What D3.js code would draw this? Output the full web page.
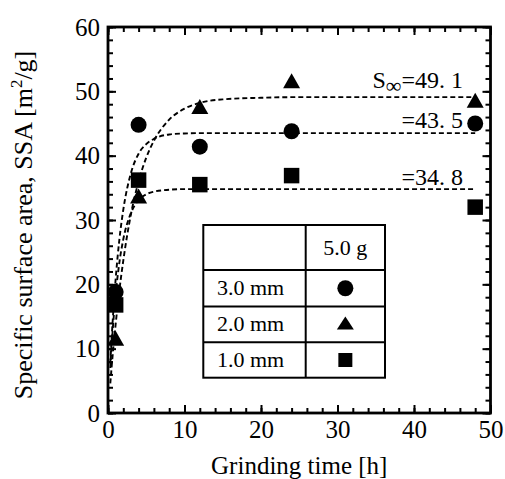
<!DOCTYPE html>
<html>
<head>
<meta charset="utf-8">
<script src="https://cdn.jsdelivr.net/npm/d3@7"></script>
<style>
  html, body { margin: 0; padding: 0; background: #fff; }
  svg { display: block; }
  svg text { font-family: "Liberation Serif", Tinos, "Times New Roman", Times, "DejaVu Serif", serif; fill: #000; }
</style>
</head>
<body>
<svg id="chart" width="505" height="479"></svg>
<script>
// Grinding time [h] at which each sample was measured
const grindTimes = [1, 4, 12, 24, 48];

// Specific surface area [m2/g] per ball size (5.0 g charge)
const ssa30mm = [18.8, 44.8, 41.4, 43.8, 45.0];
const ssa20mm = [11.4, 33.5, 47.4, 51.4, 48.4];
const ssa10mm = [16.8, 36.2, 35.5, 36.9, 32.0];

// Fitted saturation curves, sampled as [time, SSA]
const fit30mm = [[0.3, 7.7], [0.5, 12.1], [1, 20.8], [1.5, 27.1], [2, 31.6], [3, 37.3], [4, 40.3],
                 [5, 41.8], [6, 42.6], [8, 43.3], [10, 43.45], [12, 43.5], [48, 43.5]];
const fit20mm = [[0.3, 4.6], [0.5, 7.5], [1, 13.8], [1.5, 19.2], [2, 23.7], [3, 30.9], [4, 36.0],
                 [5, 39.7], [6, 42.3], [8, 45.6], [10, 47.3], [12, 48.2], [15, 48.75], [20, 49.0],
                 [25, 49.1], [48, 49.1]];
const fit10mm = [[0.3, 7.0], [0.5, 10.9], [1, 18.4], [1.5, 23.5], [2, 27.0], [3, 31.1], [4, 33.1],
                 [5, 34.0], [6, 34.4], [8, 34.7], [10, 34.8], [48, 34.8]];

// Saturation values S∞ of the fits
const sInf = [49.1, 43.5, 34.8];
const sInfLabels = ["=49. 1", "=43. 5", "=34. 8"];

// Axis ticks
const xMajor = [0, 10, 20, 30, 40, 50];
const xMinor = d3.range(0, 51, 2);
const yMajor = [0, 10, 20, 30, 40, 50, 60];
const yMinor = d3.range(0, 61, 2);

// Legend
const legendHeader = "5.0 g";
const legendRows = ["3.0 mm", "2.0 mm", "1.0 mm"];

const SERIF = '"Liberation Serif", Tinos, "Times New Roman", Times, "DejaVu Serif", serif';

const svg = d3.select("#chart");
const L = 108, T = 27, R = 490.5, B = 413;
const W = R - L, H = B - T;

const x = d3.scaleLinear().domain([0, 50]).range([L, R]);
const y = d3.scaleLinear().domain([0, 60]).range([B, T]);

// ---- ticks (all pointing inward) ----
function styleAxis(g) {
  g.attr("font-family", SERIF).attr("font-size", 25);
  g.select(".domain").remove();
  g.selectAll(".tick line").attr("stroke", "#000").attr("stroke-width", 2);
}
const none = () => "";

svg.append("g").attr("transform", `translate(0,${B})`)
  .call(d3.axisBottom(x).tickValues(xMinor).tickSize(-5).tickFormat(none)).call(styleAxis);
svg.append("g").attr("transform", `translate(0,${B})`)
  .call(d3.axisBottom(x).tickValues(xMajor).tickSize(-8).tickPadding(7).tickFormat(d3.format("d"))).call(styleAxis);
svg.append("g").attr("transform", `translate(0,${T})`)
  .call(d3.axisTop(x).tickValues(xMinor).tickSize(-5).tickFormat(none)).call(styleAxis);
svg.append("g").attr("transform", `translate(0,${T})`)
  .call(d3.axisTop(x).tickValues(xMajor).tickSize(-8).tickFormat(none)).call(styleAxis);

svg.append("g").attr("transform", `translate(${L},0)`)
  .call(d3.axisLeft(y).tickValues(yMinor).tickSize(-5).tickFormat(none)).call(styleAxis);
svg.append("g").attr("transform", `translate(${L},0)`)
  .call(d3.axisLeft(y).tickValues(yMajor).tickSize(-8).tickPadding(8).tickFormat(d3.format("d"))).call(styleAxis);
svg.append("g").attr("transform", `translate(${R},0)`)
  .call(d3.axisRight(y).tickValues(yMinor).tickSize(-5).tickFormat(none)).call(styleAxis);
svg.append("g").attr("transform", `translate(${R},0)`)
  .call(d3.axisRight(y).tickValues(yMajor).tickSize(-8).tickFormat(none)).call(styleAxis);

// frame
svg.append("rect").attr("x", L).attr("y", T).attr("width", W).attr("height", H)
  .attr("fill", "none").attr("stroke", "#000").attr("stroke-width", 2.8);

// ---- fitted curves ----
const line = d3.line().x(d => x(d[0])).y(d => y(d[1])).curve(d3.curveMonotoneX);
[fit20mm, fit30mm, fit10mm].forEach(f => {
  svg.append("path").attr("d", line(f)).attr("fill", "none")
    .attr("stroke", "#000").attr("stroke-width", 1.9).attr("stroke-dasharray", "5,3");
});

// ---- S∞ annotations ----
const annX = 463;
const annLift = [9, 5, 4];
sInf.forEach((s, i) => {
  const t = svg.append("text").attr("x", annX).attr("y", y(s) - annLift[i])
    .attr("text-anchor", "end").attr("font-size", 24).attr("font-family", SERIF);
  if (i === 0) {
    t.append("tspan").text("S");
    t.append("tspan").attr("font-size", 22).attr("dy", 5).text("∞");
    t.append("tspan").attr("dy", -5).text(sInfLabels[i]);
  } else {
    t.text(sInfLabels[i]);
  }
});

// ---- markers ----
const symCircle = d3.symbol().type(d3.symbolCircle).size(Math.PI * 8 * 8);
const symSquare = d3.symbol().type(d3.symbolSquare).size(15.5 * 15.5);
function triPath(w, h) {
  return `M0,${-h * 0.6}L${w / 2},${h * 0.4}L${-w / 2},${h * 0.4}Z`;
}
const series = [
  { vals: ssa30mm, shape: () => symCircle() },
  { vals: ssa20mm, shape: () => triPath(17, 15) },
  { vals: ssa10mm, shape: () => symSquare() }
];
series.forEach(s => {
  svg.append("g").selectAll("path").data(s.vals).join("path")
    .attr("transform", (d, i) => `translate(${x(grindTimes[i])},${y(d)})`)
    .attr("d", s.shape).attr("fill", "#000");
});

// ---- legend table ----
const tb = { x0: 203.3, x1: 305.7, x2: 385, y0: 225, y1: 270, y2: 306.5, y3: 342.3, y4: 377.7 };
const lg = svg.append("g").attr("font-family", SERIF);
lg.append("rect").attr("x", tb.x0).attr("y", tb.y0).attr("width", tb.x2 - tb.x0).attr("height", tb.y4 - tb.y0)
  .attr("fill", "#fff").attr("stroke", "#000").attr("stroke-width", 2);
[tb.y1, tb.y2, tb.y3].forEach(yy => {
  lg.append("line").attr("x1", tb.x0).attr("x2", tb.x2).attr("y1", yy).attr("y2", yy)
    .attr("stroke", "#000").attr("stroke-width", 2);
});
lg.append("line").attr("x1", tb.x1).attr("x2", tb.x1).attr("y1", tb.y0).attr("y2", tb.y4)
  .attr("stroke", "#000").attr("stroke-width", 2);
const colC = (tb.x1 + tb.x2) / 2;
lg.append("text").attr("x", colC).attr("y", (tb.y0 + tb.y1) / 2 + 7)
  .attr("text-anchor", "middle").attr("font-size", 22).text(legendHeader);
const rowMid = [(tb.y1 + tb.y2) / 2, (tb.y2 + tb.y3) / 2, (tb.y3 + tb.y4) / 2];
legendRows.forEach((r, i) => {
  lg.append("text").attr("x", 217).attr("y", rowMid[i] + 7).attr("font-size", 22).text(r);
});
const legShapes = [
  d3.symbol().type(d3.symbolCircle).size(Math.PI * 8 * 8)(),
  triPath(17, 13),
  d3.symbol().type(d3.symbolSquare).size(14 * 14)()
];
legShapes.forEach((p, i) => {
  lg.append("path").attr("transform", `translate(${colC},${rowMid[i]})`).attr("d", p).attr("fill", "#000");
});

// ---- axis titles ----
svg.append("text").attr("x", (L + R) / 2).attr("y", 474).attr("text-anchor", "middle")
  .attr("font-family", SERIF).attr("font-size", 25).text("Grinding time [h]");

const yt = svg.append("text").attr("transform", `translate(32,${(T + B) / 2 + 5}) rotate(-90)`)
  .attr("text-anchor", "middle").attr("font-family", SERIF).attr("font-size", 26);
yt.append("tspan").text("Specific surface area, SSA [m");
yt.append("tspan").attr("font-size", 17).attr("dy", -10).text("2");
yt.append("tspan").attr("dy", 10).text("/g]");
</script>
</body>
</html>
